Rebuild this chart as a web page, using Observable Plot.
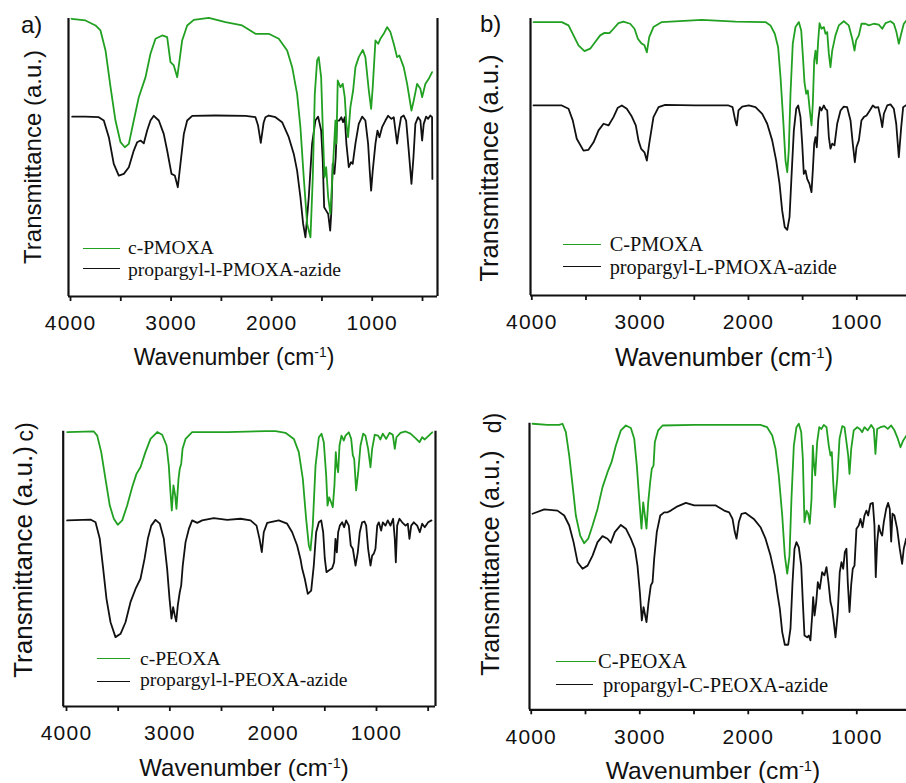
<!DOCTYPE html>
<html><head><meta charset="utf-8">
<script src="https://cdn.jsdelivr.net/npm/d3@7"></script>
<script src="https://cdn.jsdelivr.net/npm/@observablehq/plot@0.6"></script>
<style>
html,body{margin:0;padding:0;background:#fff;overflow:hidden;}
#root{position:relative;width:906px;height:783px;overflow:hidden;background:#fff;}
.panel{position:absolute;}
.panel svg{max-width:none !important;display:block;}
.panel svg text{letter-spacing:1.2px;}
.t{position:absolute;white-space:nowrap;line-height:1;font-family:"Liberation Sans",Arial,sans-serif;color:#111;}
.c{transform:translate(-50%,-50%);}
.r{transform:translate(-50%,-50%) rotate(-90deg);}
.leg{position:absolute;white-space:nowrap;line-height:1;font-family:"Liberation Serif","Times New Roman",serif;color:#111;}
.ln{position:absolute;height:0;border-top:1.8px solid;}
sup{font-size:0.6em;position:relative;top:-0.55em;vertical-align:baseline;line-height:0;}
</style></head><body>
<div id="root">
<!-- panel a -->
<div class="t" style="left:21px;top:13px;font-size:24px">a)</div>
<div class="t r" style="left:33px;top:157px;font-size:24px">Transmittance (a.u.)</div>
<div class="t c" style="left:234px;top:357px;font-size:23px">Wavenumber (cm<sup>-1</sup>)</div>
<div class="ln" style="left:83px;top:247.5px;width:37px;border-color:#22a022"></div>
<div class="leg" style="left:128px;top:237.6px;font-size:19.6px">c-PMOXA</div>
<div class="ln" style="left:83px;top:267.5px;width:37px;border-color:#111"></div>
<div class="leg" style="left:128px;top:259.6px;font-size:19.6px">propargyl-l-PMOXA-azide</div>
<!-- panel b -->
<div class="t" style="left:480px;top:12px;font-size:24px">b)</div>
<div class="t r" style="left:490px;top:168px;font-size:25.5px">Transmittance (a.u.)</div>
<div class="t c" style="left:724px;top:357px;font-size:25px">Wavenumber (cm<sup>-1</sup>)</div>
<div class="ln" style="left:563px;top:244.2px;width:38px;border-color:#22a022"></div>
<div class="leg" style="left:609.7px;top:233.7px;font-size:20.3px">C-PMOXA</div>
<div class="ln" style="left:563px;top:265.9px;width:38px;border-color:#111"></div>
<div class="leg" style="left:609.7px;top:257px;font-size:20.3px">propargyl-L-PMOXA-azide</div>
<!-- panel c -->
<div class="t r" style="left:25px;top:432px;font-size:23px">c)</div>
<div class="t r" style="left:23px;top:562px;font-size:26px">Transmittance (a.u.)</div>
<div class="t c" style="left:244px;top:768px;font-size:24px">Wavenumber (cm<sup>-1</sup>)</div>
<div class="ln" style="left:96.7px;top:657.5px;width:33.3px;border-color:#22a022"></div>
<div class="leg" style="left:140px;top:648.6px;font-size:19.6px">c-PEOXA</div>
<div class="ln" style="left:96.7px;top:681px;width:33.3px;border-color:#111"></div>
<div class="leg" style="left:140px;top:670.3px;font-size:19.6px">propargyl-l-PEOXA-azide</div>
<!-- panel d -->
<div class="t r" style="left:493px;top:423px;font-size:23px">d)</div>
<div class="t r" style="left:491px;top:563px;font-size:25.3px">Transmittance (a.u.)</div>
<div class="t c" style="left:713px;top:771px;font-size:24.6px">Wavenumber (cm<sup>-1</sup>)</div>
<div class="ln" style="left:556px;top:661px;width:40px;border-color:#22a022"></div>
<div class="leg" style="left:598px;top:650.8px;font-size:20.5px">C-PEOXA</div>
<div class="ln" style="left:556px;top:684.2px;width:37px;border-color:#111"></div>
<div class="leg" style="left:603px;top:674.5px;font-size:20.5px">propargyl-C-PEOXA-azide</div>
</div>
<script>
// ---- tick values ----
const XTICKS = [4000, 3500, 3000, 2500, 2000, 1500, 1000, 500];

// ---- panel a : c-PMOXA (green) / propargyl-l-PMOXA-azide (black) ----
const aGreenWn = [3990,3851,3751,3702,3652,3602,3553,3503,3460,3420,3371,3321,3254,3205,3155,3088,3039,3006,2973,2939,2916,2890,2840,2774,2625,2459,2293,2161,2029,1929,1846,1796,1747,1714,1681,1647,1614,1591,1571,1548,1532,1508,1492,1475,1458,1438,1416,1393,1366,1356,1343,1316,1293,1273,1257,1240,1217,1190,1167,1134,1094,1068,1034,1011,995,968,941,919,886,852,819,786,753,730,687,653,610,587,554,521,504,471,438,405];
const aGreenT  = [99.9,99.3,97.5,95.7,88.5,75.3,63.3,55.5,53.7,54.9,63.3,71.7,78.9,87.3,92.7,93.9,93.3,84.3,83.1,78.9,84.9,92.1,97.5,99.5,100.2,98.7,97.5,94.5,94.5,92.7,88.5,82.5,72.9,60.9,42.9,26.1,21.3,42.9,72.9,84.9,86.1,78.9,60.9,42.9,46.5,35.7,29.7,45.3,63.3,55.0,77.7,75.3,76.5,71.7,62.1,57.3,68.1,74.1,82.5,86.1,88.7,86.1,74.1,67.5,75.3,92.1,90.9,92.7,94.5,96.9,95.1,90.9,86.1,86.7,82.5,76.5,66.9,70.5,76.5,74.7,71.7,76.5,78.3,80.7];
const aBlackWn = [3983,3851,3719,3669,3619,3570,3520,3470,3420,3371,3337,3304,3271,3238,3205,3172,3122,3073,3039,2996,2963,2933,2907,2873,2840,2790,2559,2260,2161,2135,2108,2080,2062,2029,1962,1896,1830,1780,1747,1714,1687,1664,1631,1598,1565,1538,1508,1492,1478,1458,1438,1418,1406,1393,1376,1363,1350,1327,1307,1290,1273,1257,1233,1210,1194,1167,1134,1100,1068,1041,1025,1011,995,968,948,928,902,869,842,809,786,769,753,736,713,687,663,637,610,590,571,544,521,504,488,464,444,422,405,402];
const aBlackT  = [64.7,64.7,64.5,63.3,57.3,47.7,43.5,44.1,46.5,52.5,55.5,56.1,55.1,59.7,63.3,65.0,63.3,58.5,52.5,44.1,43.5,39.3,47.7,58.5,63.3,65.0,65.1,65.0,64.5,61.5,55.3,62.5,64.5,65.1,64.5,62.7,57.3,51.3,45.3,35.7,26.1,21.3,35.7,54.9,63.3,64.7,59.7,48.9,32.1,30.9,29.7,23.7,30.9,47.7,44.1,50.1,63.3,63.3,64.5,62.7,64.5,55.0,46.5,48.3,47.7,55.0,62.1,64.7,63.3,55.0,45.3,38.1,45.3,55.0,59.7,57.3,60.9,63.3,65.0,63.9,64.5,59.7,55.0,59.7,64.5,65.1,63.3,52.5,40.5,50.1,62.1,64.5,63.3,56.1,62.1,64.7,63.9,65.1,64.5,42.3];

// ---- panel b : C-PMOXA (green) / propargyl-L-PMOXA-azide (black) ----
const bGreenWn = [3984,3723,3661,3615,3569,3514,3461,3415,3369,3329,3283,3246,3200,3154,3092,3052,3021,2990,2960,2938,2916,2877,2800,2431,2120,1843,1797,1757,1726,1704,1679,1658,1642,1628,1612,1591,1566,1535,1513,1495,1483,1467,1452,1437,1418,1406,1393,1381,1369,1356,1344,1326,1304,1289,1273,1258,1243,1227,1197,1166,1120,1074,1042,1021,1006,981,957,920,889,843,797,765,735,689,658,634,612,590,566,541];
const bGreenT  = [98.7,98.7,97.5,93.9,90.3,88.2,89.1,91.5,93.9,94.8,94.7,96.3,98.3,98.9,98.1,96.3,92.7,91.1,90.3,87.8,93.3,96.9,98.7,99.5,98.9,98.7,97.5,94.5,89.6,78.8,63.2,48.7,44.5,52.3,72.8,90.9,96.9,98.7,95.7,84.8,77.0,72.8,74.0,68.0,61.4,69.2,84.8,88.4,83.7,92.1,98.3,96.3,96.9,94.5,95.1,87.3,82.4,88.4,93.9,97.5,99.0,97.5,92.7,88.4,92.1,93.9,98.1,98.1,97.5,98.1,97.8,96.3,98.3,99.0,98.1,95.1,90.9,94.5,98.1,99.3];
const bBlackWn = [3984,3723,3661,3622,3585,3523,3477,3430,3384,3338,3292,3246,3206,3169,3123,3077,3040,3015,2990,2960,2938,2916,2877,2830,2769,2492,2184,2147,2122,2108,2092,2058,1997,1935,1873,1827,1781,1744,1713,1689,1665,1642,1621,1603,1581,1559,1541,1520,1504,1489,1473,1458,1437,1418,1406,1393,1381,1369,1356,1341,1326,1304,1289,1273,1258,1243,1227,1206,1181,1150,1120,1089,1058,1037,1018,1003,981,957,935,910,880,852,827,802,781,765,750,719,689,658,636,612,590,572,541];
const bBlackT  = [68.6,68.6,67.4,63.2,56.6,52.3,52.6,55.3,59.6,62.0,61.4,64.4,67.8,68.6,67.4,64.6,61.4,55.9,52.9,51.7,48.7,54.8,64.4,68.0,68.8,68.6,68.6,68.0,63.2,61.4,66.8,68.2,68.6,68.0,65.6,62.0,56.0,48.7,40.3,30.7,24.7,23.7,28.3,42.7,59.6,67.4,68.6,64.4,54.8,43.9,45.1,42.1,40.3,37.3,45.1,54.8,57.2,53.5,63.2,68.0,66.8,68.6,67.4,66.8,57.2,53.0,54.8,54.2,62.0,66.8,68.2,68.0,63.2,54.8,48.1,53.5,56.0,63.2,64.4,65.0,66.8,68.6,67.8,68.0,64.4,60.8,65.6,68.6,69.0,67.4,62.0,49.9,60.8,68.0,68.8];

// ---- panel c : c-PEOXA (green) / propargyl-l-PEOXA-azide (black) ----
const cGreenWn = [3994,3736,3703,3664,3623,3581,3542,3504,3461,3413,3364,3323,3284,3236,3187,3122,3074,3032,3010,2994,2981,2965,2948,2936,2916,2904,2890,2877,2848,2784,2445,2074,1977,1881,1800,1752,1713,1681,1655,1639,1617,1590,1558,1532,1510,1487,1474,1458,1439,1423,1407,1394,1384,1371,1358,1339,1316,1300,1268,1245,1229,1216,1197,1177,1155,1129,1107,1081,1058,1042,1017,984,962,939,906,874,842,823,807,768,719,671,623,584,558,533,494,461];
const cGreenT  = [99.7,99.9,98.4,92.4,82.7,73.0,68.2,66.0,67.6,73.0,79.7,84.5,86.9,92.4,97.2,99.7,98.7,94.8,87.5,77.8,71.2,80.3,76.6,71.8,82.7,86.3,88.2,93.6,97.2,99.7,99.7,100,100,99.4,97.2,92.4,82.7,68.2,58.5,56.7,65.7,87.5,97.8,99.1,96.0,83.9,73.0,76.0,74.2,72.4,80.3,92.4,87.5,85.1,94.8,98.4,96.6,98.4,99.6,97.2,91.2,90.0,78.5,85.1,94.8,99.1,98.4,93.6,86.9,93.6,98.7,98.4,97.0,99.1,97.2,99.4,98.7,93.6,97.8,99.4,99.9,99.1,97.5,96.0,97.8,97.0,98.4,99.6];
const cBlackWn = [3994,3768,3719,3678,3645,3613,3574,3526,3477,3429,3381,3332,3284,3245,3213,3180,3139,3097,3058,3026,3003,2984,2968,2952,2938,2923,2904,2890,2875,2848,2816,2784,2735,2687,2575,2445,2316,2219,2161,2132,2110,2091,2058,1946,1865,1816,1768,1736,1719,1694,1665,1632,1607,1584,1558,1535,1516,1500,1484,1462,1429,1410,1397,1384,1371,1355,1332,1313,1294,1268,1249,1229,1203,1181,1162,1139,1116,1100,1081,1058,1042,1026,1010,993,978,955,939,913,891,865,839,823,813,800,778,752,719,697,681,664,639,606,581,558,533,500,468];
const cBlackT  = [67.6,67.9,66.9,60.9,50.0,39.1,30.6,25.2,26.4,30.6,37.9,42.7,46.4,53.6,60.9,65.7,67.8,66.4,60.9,50.0,39.1,31.9,36.1,33.1,30.9,36.7,41.5,44.0,51.2,59.7,64.5,67.6,66.7,67.6,68.4,67.8,68.2,67.6,65.7,60.9,56.1,63.3,66.7,67.6,66.4,63.3,58.5,53.6,50.0,46.4,40.9,42.1,51.2,63.3,66.9,67.6,63.3,53.6,48.8,49.4,50.2,52.4,60.9,56.0,63.3,65.7,66.9,65.1,67.6,65.7,58.5,57.3,51.2,56.0,63.3,66.9,67.2,65.7,57.3,51.2,54.8,55.5,57.3,65.7,66.9,63.9,66.9,65.7,67.6,65.7,68.2,60.9,52.4,65.7,68.2,66.9,65.7,66.4,60.9,65.7,66.9,65.7,63.3,66.4,65.1,66.9,67.6];

// ---- panel d : C-PEOXA (green) / propargyl-C-PEOXA-azide (black) ----
const dGreenWn = [3988,3850,3742,3712,3681,3650,3619,3589,3549,3512,3475,3435,3389,3343,3297,3260,3220,3174,3128,3082,3051,3027,3005,2984,2968,2953,2938,2922,2904,2889,2873,2861,2830,2790,2498,2191,2037,1887,1826,1779,1749,1719,1687,1663,1641,1620,1602,1580,1556,1534,1512,1497,1482,1463,1448,1433,1417,1405,1396,1383,1365,1346,1325,1304,1279,1258,1242,1230,1217,1203,1180,1159,1134,1113,1095,1079,1067,1051,1028,996,972,950,929,899,867,843,828,812,782,745,714,683,653,622,597,572,542];
const dGreenT  = [99.8,99.4,99.4,99.8,96.9,88.7,78.3,67.8,60.8,58.1,59.7,64.3,70.1,77.7,82.9,86.4,92.2,97.5,99.2,98.3,94.6,85.2,73.6,63.2,72.4,67.8,63.2,72.4,79.4,84.1,85.2,93.4,97.5,99.2,99.4,99.4,99.4,99.4,98.6,95.7,91.1,81.8,67.8,53.8,47.5,53.8,73.6,92.2,98.6,99.8,96.9,87.6,65.5,69.5,68.4,64.9,73.6,92.2,86.4,81.8,93.4,98.6,98.0,99.4,98.6,92.2,88.7,89.9,79.4,70.7,80.6,94.6,99.0,98.6,93.4,88.7,82.3,91.1,97.5,98.6,98.0,96.9,98.6,97.5,99.4,98.0,89.3,98.0,98.6,99.0,98.0,99.2,97.5,94.6,91.6,94.0,95.7];
const dBlackWn = [3988,3880,3758,3696,3650,3610,3573,3527,3481,3435,3389,3343,3297,3267,3230,3174,3128,3082,3045,3021,2999,2981,2965,2950,2938,2919,2898,2882,2867,2843,2811,2775,2744,2714,2652,2575,2498,2406,2299,2222,2176,2145,2124,2108,2087,2062,2025,1949,1887,1841,1795,1755,1733,1709,1687,1663,1632,1611,1592,1574,1556,1534,1512,1497,1482,1457,1442,1427,1411,1402,1389,1374,1359,1341,1319,1298,1279,1261,1242,1227,1212,1196,1175,1157,1141,1125,1110,1095,1083,1067,1052,1037,1021,1003,982,966,947,929,911,895,874,852,837,825,812,797,782,766,751,729,711,696,683,671,653,628,604,582,567,545];
const dBlackT  = [68.4,69.9,69.5,67.8,64.3,58.5,51.5,49.2,50.3,53.8,58.5,60.6,59.7,58.3,62.0,64.5,63.2,59.7,56.2,50.3,41.0,31.2,35.8,32.9,30.6,37.5,43.4,44.5,52.7,62.0,67.8,68.9,68.9,69.5,71.0,72.2,71.3,71.3,71.3,69.5,68.9,66.6,62.0,59.7,65.5,68.4,68.7,66.6,63.7,59.7,53.8,46.9,41.0,35.2,27.1,22.7,22.7,28.3,44.5,56.2,58.5,56.7,50.3,37.5,25.9,25.3,25.9,24.2,32.9,39.3,32.9,37.5,44.5,42.2,48.0,46.9,49.8,44.5,37.5,35.2,30.6,25.3,34.1,48.0,51.5,49.2,55.0,56.2,44.5,34.1,43.4,49.2,50.3,63.2,64.3,66.6,63.7,67.8,69.5,67.8,71.9,72.2,64.3,46.3,58.5,64.3,62.0,60.8,65.5,70.1,72.2,70.1,58.7,68.4,67.8,63.2,56.2,50.9,56.2,59.7];

const GREEN = "#22a022", BLACK = "#111111";
const rows = (wn, t) => wn.map((w, i) => ({wn: w, t: t[i]}));

function panel({left, top, width, height, mt, mb, ml, mr, xDomain, green, black, rightFrame}) {
  const marks = [
    Plot.line(black, {x: "wn", y: "t", stroke: BLACK, strokeWidth: 1.8}),
    Plot.line(green, {x: "wn", y: "t", stroke: GREEN, strokeWidth: 1.8}),
    Plot.ruleX([xDomain[0]], {stroke: BLACK, strokeWidth: 2.2}),
    Plot.ruleY([0], {stroke: BLACK, strokeWidth: 2.2}),
    Plot.axisX({ticks: XTICKS, tickFormat: d => d % 1000 === 0 ? String(d) : "", tickSize: 5, tickPadding: 14, strokeWidth: 1.8, fontSize: 21})
  ];
  if (rightFrame) marks.push(Plot.ruleX([xDomain[1]], {stroke: BLACK, strokeWidth: 2.2}));
  const svg = Plot.plot({
    width, height, marginTop: mt, marginBottom: mb, marginLeft: ml, marginRight: mr,
    x: {domain: xDomain, label: null},
    y: {domain: [0, 100], axis: null},
    style: {fontFamily: "Liberation Sans, Arial, sans-serif", fontSize: "21px", background: "transparent", overflow: "visible", color: "#111", maxWidth: "none"},
    marks
  });
  const div = document.createElement("div");
  div.className = "panel";
  div.style.left = left + "px";
  div.style.top = top + "px";
  div.style.width = width + "px";
  div.style.height = height + "px";
  div.appendChild(svg);
  const root = document.getElementById("root");
  root.insertBefore(div, root.firstChild);
}

panel({left: 0, top: 0, width: 442, height: 326, mt: 18, mb: 30, ml: 68, mr: 5, xDomain: [4020, 351],
  green: rows(aGreenWn, aGreenT), black: rows(aBlackWn, aBlackT), rightFrame: true});
panel({left: 460, top: 0, width: 461.3, height: 325, mt: 18, mb: 30, ml: 70, mr: 0, xDomain: [4012, 400],
  green: rows(bGreenWn, bGreenT), black: rows(bBlackWn, bBlackT), rightFrame: false});
panel({left: 0, top: 400, width: 440, height: 336, mt: 30.7, mb: 30, ml: 62.7, mr: 5, xDomain: [4032, 429],
  green: rows(cGreenWn, cGreenT), black: rows(cBlackWn, cBlackT), rightFrame: true});
panel({left: 460, top: 400, width: 461.4, height: 339.3, mt: 22.7, mb: 30, ml: 69, mr: 0, xDomain: [4016, 400],
  green: rows(dGreenWn, dGreenT), black: rows(dBlackWn, dBlackT), rightFrame: false});
</script>
</body></html>
